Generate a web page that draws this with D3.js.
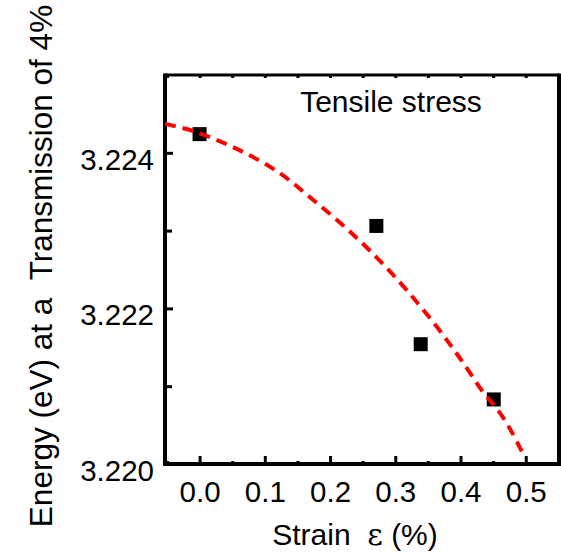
<!DOCTYPE html>
<html>
<head>
<meta charset="utf-8">
<script src="https://cdn.jsdelivr.net/npm/d3@7/dist/d3.min.js"></script>
<style>
  html, body { margin: 0; padding: 0; background: #fff; }
  svg { display: block; }
  text { font-family: Arial, "Liberation Sans", sans-serif; fill: #000; }
</style>
</head>
<body>
<svg id="chart" width="561" height="557"></svg>
<script>
// Measured band-edge energy vs tensile strain
const strain = [0.0, 0.271, 0.339, 0.451];
const energy = [3.22424, 3.22306, 3.22154, 3.22083];

// Fitted trend (dashed red)
const fitStrain = [-0.053, -0.010, 0.057, 0.121, 0.169, 0.221, 0.272, 0.318, 0.364, 0.400, 0.435, 0.456, 0.476, 0.497];
const fitEnergy = [3.22437, 3.22428, 3.22405, 3.22375, 3.22343, 3.22306, 3.22265, 3.22223, 3.22176, 3.22135, 3.22092, 3.22071, 3.22045, 3.22011];

// Axis ticks
const xTicks = [0.0, 0.1, 0.2, 0.3, 0.4, 0.5];
const xMinorTicks = [-0.05, 0.05, 0.15, 0.25, 0.35, 0.45, 0.55];
const yTicks = [3.220, 3.222, 3.224];
const yMinorTicks = [3.221, 3.223];

const plotL = 165, plotR = 559, plotT = 75, plotB = 464;

const x = d3.scaleLinear().domain([-0.053, 0.551]).range([plotL, plotR]);
const y = d3.scaleLinear().domain([3.220, 3.225]).range([plotB, plotT]);

const svg = d3.select("#chart");

svg.append("defs").append("clipPath").attr("id", "plotClip")
  .append("rect").attr("x", plotL).attr("y", plotT).attr("width", plotR - plotL).attr("height", plotB - plotT);

const inRange = v => v > -0.053 && v < 0.551;

// Bottom axis: major ticks with labels, pointing inward
const xAxis = svg.append("g").attr("transform", `translate(0,${plotB})`)
  .call(d3.axisBottom(x).tickValues(xTicks).tickSize(-8).tickPadding(17)
    .tickFormat(d3.format(".1f")));
xAxis.select(".domain").remove();
xAxis.selectAll("line").attr("stroke", "#000").attr("stroke-width", 3);
xAxis.selectAll("text").attr("font-size", 29.5).attr("font-family", "Arial, 'Liberation Sans', sans-serif");

const xMinor = svg.append("g").attr("transform", `translate(0,${plotB})`)
  .call(d3.axisBottom(x).tickValues(xMinorTicks.filter(inRange)).tickSize(-3).tickFormat(""));
xMinor.select(".domain").remove();
xMinor.selectAll("line").attr("stroke", "#000").attr("stroke-width", 3);

// Top axis: small inward ticks
const xTop = svg.append("g").attr("transform", `translate(0,${plotT})`)
  .call(d3.axisTop(x).tickValues(xTicks.concat(xMinorTicks).filter(inRange)).tickSize(-3).tickFormat(""));
xTop.select(".domain").remove();
xTop.selectAll("line").attr("stroke", "#000").attr("stroke-width", 3);

// Left axis
const yAxis = svg.append("g").attr("transform", `translate(${plotL},0)`)
  .call(d3.axisLeft(y).tickValues(yTicks).tickSize(-8).tickPadding(11)
    .tickFormat(d3.format(".3f")));
yAxis.select(".domain").remove();
yAxis.selectAll("line").attr("stroke", "#000").attr("stroke-width", 3);
yAxis.selectAll("text").attr("font-size", 29.5).attr("dy", "0.56em")
  .attr("font-family", "Arial, 'Liberation Sans', sans-serif");

const yMinor = svg.append("g").attr("transform", `translate(${plotL},0)`)
  .call(d3.axisLeft(y).tickValues(yMinorTicks).tickSize(-7).tickFormat(""));
yMinor.select(".domain").remove();
yMinor.selectAll("line").attr("stroke", "#000").attr("stroke-width", 3);

// Frame
svg.append("path")
  .attr("d", `M${plotL},${plotT}H${plotR}`).attr("stroke", "#000").attr("stroke-width", 3);
svg.append("path")
  .attr("d", `M${plotL},${plotT - 1.5}V${plotB + 2}`).attr("stroke", "#000").attr("stroke-width", 4);
svg.append("path")
  .attr("d", `M${plotL - 2},${plotB}H${plotR}`).attr("stroke", "#000").attr("stroke-width", 4);
svg.append("path")
  .attr("d", `M${plotR},${plotT - 1.5}V${plotB + 2}`).attr("stroke", "#000").attr("stroke-width", 4);

// Data markers
const pts = strain.map((s, i) => ({ s, e: energy[i] }));
const ms = 14;
svg.append("g").selectAll("rect").data(pts).join("rect")
  .attr("x", d => x(d.s) - ms / 2)
  .attr("y", d => y(d.e) - ms / 2)
  .attr("width", ms).attr("height", ms)
  .attr("fill", "#000");

// Fitted dashed curve
const fit = fitStrain.map((s, i) => ({ s, e: fitEnergy[i] }));
svg.append("path")
  .datum(fit)
  .attr("clip-path", "url(#plotClip)")
  .attr("fill", "none")
  .attr("stroke", "#ff0000")
  .attr("stroke-width", 4)
  .attr("stroke-dasharray", "11,7")
  .attr("d", d3.line().x(d => x(d.s)).y(d => y(d.e)).curve(d3.curveCatmullRom.alpha(0.5)));

// Annotation
svg.append("text")
  .attr("x", 391).attr("y", 112)
  .attr("text-anchor", "middle").attr("font-size", 30)
  .text("Tensile stress");

// Axis titles
const xTitle = svg.append("text")
  .attr("x", 355).attr("y", 545)
  .attr("text-anchor", "middle").attr("font-size", 30);
xTitle.append("tspan").text("Strain\u00a0\u00a0");
xTitle.append("tspan").attr("font-family", "'DejaVu Serif', 'Liberation Serif', serif").text("\u03b5");
xTitle.append("tspan").text(" (%)");

svg.append("text")
  .attr("transform", "translate(52,266) rotate(-90)")
  .attr("text-anchor", "middle").attr("font-size", 31.5)
  .text("Energy (eV) at a\u00a0\u00a0Transmission of 4%");
</script>
</body>
</html>
